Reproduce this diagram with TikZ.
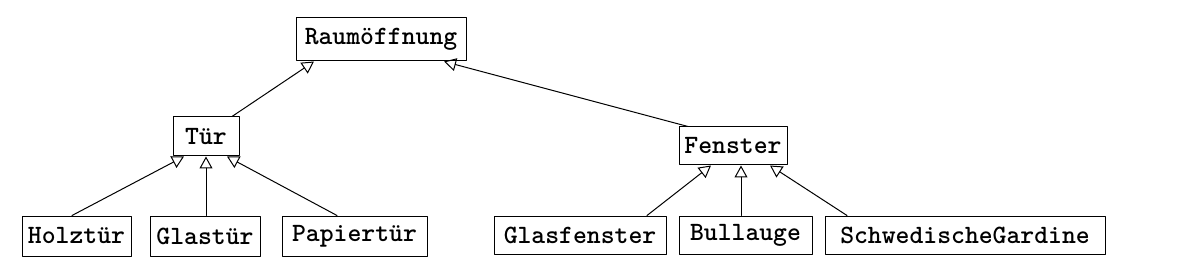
\documentclass[tikz,border=0pt]{standalone}
\usepackage{fontspec}
\newfontfamily\klassefont{Latin Modern Mono Light}
\usetikzlibrary{arrows.meta,calc}

\tikzset{
  klasse/.style={draw, line width=0.5pt, inner sep=0pt,
    font=\fontsize{13.2}{15}\selectfont\klassefont\bfseries},
  erbt/.style={line width=0.5pt,
    -{Triangle[open,length=6pt,width=6.5pt]}}
}

\begin{document}
\begin{tikzpicture}[
  x=0.5pt,
  y=-0.5pt,
  line cap=round,
  line join=round
]
  \useasboundingbox (0,0) rectangle (1184,278);

  % Oberklasse
  \node[klasse, minimum width=85pt, minimum height=21.5pt] (raum) at (381,39.5) {Raumöffnung};

  % Mittlere Ebene
  \node[klasse, minimum width=33pt, minimum height=19.5pt] (tuer)    at (206,136.5) {Tür};
  \node[klasse, minimum width=54pt, minimum height=19pt]   (fenster) at (733,146)   {Fenster};

  % Unterklassen von Tür
  \node[klasse, minimum width=54.5pt, minimum height=20pt] (holz)   at (76.5,236)  {Holztür};
  \node[klasse, minimum width=55pt,   minimum height=20pt] (glas)   at (205,236)   {Glastür};
  \node[klasse, minimum width=72.5pt, minimum height=20pt] (papier) at (354.5,236) {Papiertür};

  % Unterklassen von Fenster
  \node[klasse, minimum width=86pt,   minimum height=19pt] (glasf)  at (580,235)   {Glasfenster};
  \node[klasse, minimum width=66.5pt, minimum height=19pt] (bull)   at (745.5,235) {Bullauge};
  \node[klasse, minimum width=140pt,  minimum height=19pt] (schwed) at (965,235)   {SchwedischeGardine};

  % Vererbung zur Oberklasse
  \draw[erbt] ($(tuer.north)+(26,0)$)     -- ($(raum.south)+(-67,0)$);
  \draw[erbt] ($(fenster.north)+(-45,0)$) -- ($(raum.south)+(63,0)$);

  % Vererbung zu Tür
  \draw[erbt] ($(holz.north)+(-4.5,0)$)    -- ($(tuer.south)+(-22,0)$);
  \draw[erbt] ($(glas.north)+(1,0)$)       -- ($(tuer.south)+(0,0)$);
  \draw[erbt] ($(papier.north)+(-17.5,0)$) -- ($(tuer.south)+(21,0)$);

  % Vererbung zu Fenster
  \draw[erbt] ($(glasf.north)+(67,0)$)     -- ($(fenster.south)+(-22,0)$);
  \draw[erbt] ($(bull.north)+(-4.5,0)$)    -- ($(fenster.south)+(8,0)$);
  \draw[erbt] ($(schwed.north)+(-118,0)$)  -- ($(fenster.south)+(37,0)$);
\end{tikzpicture}
\end{document}
